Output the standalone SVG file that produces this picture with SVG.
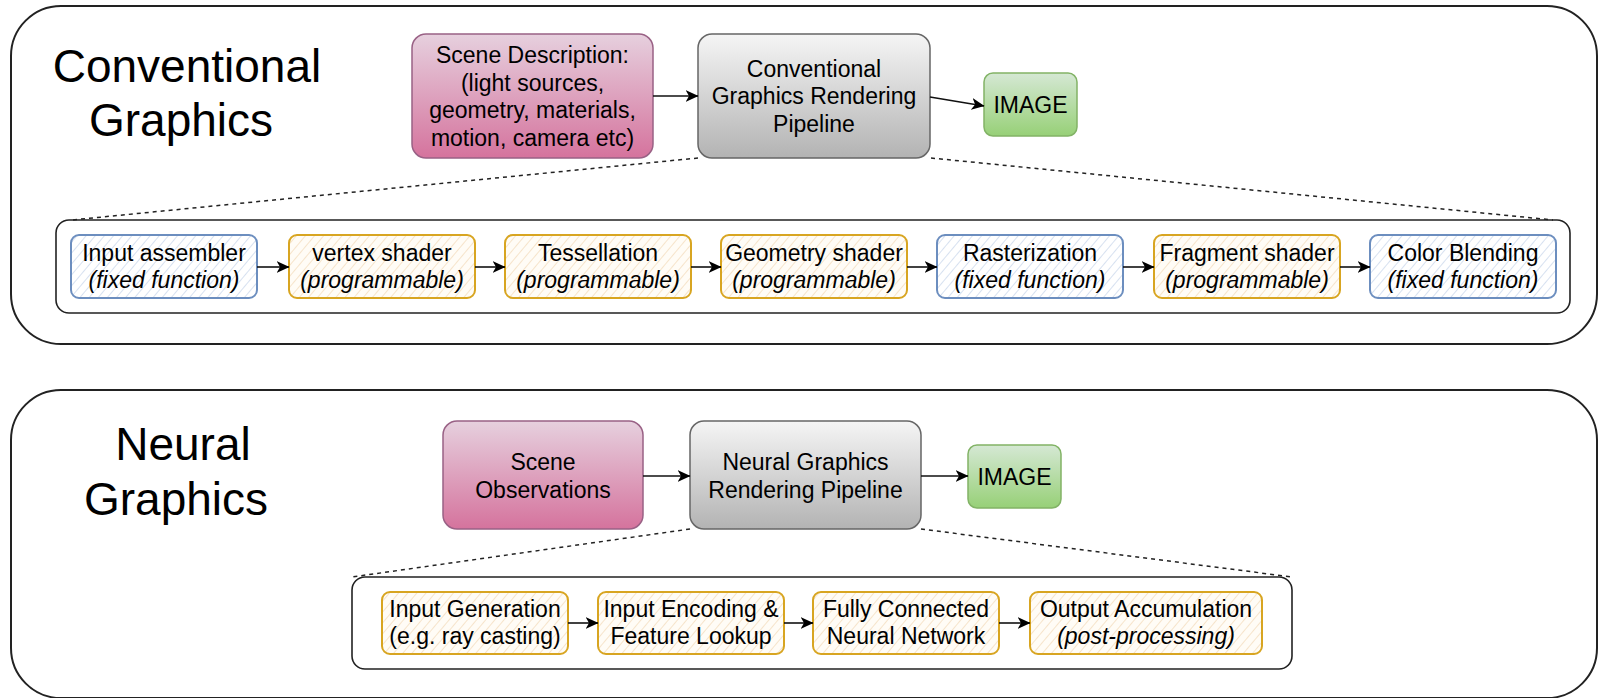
<svg xmlns="http://www.w3.org/2000/svg" width="1600" height="698" viewBox="0 0 1600 698">
  <defs>
    <linearGradient id="gPink" x1="0" y1="0" x2="0" y2="1">
      <stop offset="0" stop-color="#e6d0de"/>
      <stop offset="1" stop-color="#d5739d"/>
    </linearGradient>
    <linearGradient id="gGray" x1="0" y1="0" x2="0" y2="1">
      <stop offset="0" stop-color="#f5f5f5"/>
      <stop offset="1" stop-color="#b3b3b3"/>
    </linearGradient>
    <linearGradient id="gGreen" x1="0" y1="0" x2="0" y2="1">
      <stop offset="0" stop-color="#d5e8d4"/>
      <stop offset="1" stop-color="#97d077"/>
    </linearGradient>
    <pattern id="hatchBlue" width="7" height="7" patternUnits="userSpaceOnUse" patternTransform="rotate(40)">
      <rect width="7" height="7" fill="#fff"/>
      <line x1="0" y1="0" x2="0" y2="7" stroke="#c2d2e8" stroke-width="1.3"/>
    </pattern>
    <pattern id="hatchOrange" width="7" height="7" patternUnits="userSpaceOnUse" patternTransform="rotate(40)">
      <rect width="7" height="7" fill="#fffcf6"/>
      <line x1="0" y1="0" x2="0" y2="7" stroke="#f2d7b4" stroke-width="1.3"/>
    </pattern>
    <marker id="arrow" viewBox="0 0 13 12" refX="12.5" refY="6" markerWidth="13" markerHeight="12" markerUnits="userSpaceOnUse" orient="auto">
      <path d="M0,0 L13,6 L0,12 L3.5,6 Z" fill="#000"/>
    </marker>
  </defs>
  <style>
    text { font-family: "Liberation Sans", Arial, Helvetica, sans-serif; fill: #000; text-anchor: middle; }
    .lbl { font-size: 23px; }
    .big { font-size: 46px; }
    .it { font-style: italic; }
    .panel { fill: #fff; stroke: #222; stroke-width: 2; }
    .inner { fill: #fff; stroke: #222; stroke-width: 1.6; }
    .pink { fill: url(#gPink); stroke: #996185; stroke-width: 1.5; }
    .gray { fill: url(#gGray); stroke: #666; stroke-width: 1.5; }
    .green { fill: url(#gGreen); stroke: #82b366; stroke-width: 1.5; }
    .fixed { fill: url(#hatchBlue); stroke: #6c8ebf; stroke-width: 2; }
    .prog { fill: url(#hatchOrange); stroke: #d8a521; stroke-width: 2; }
    .edge { fill: none; stroke: #111; stroke-width: 1.6; marker-end: url(#arrow); }
    .dash { fill: none; stroke: #222; stroke-width: 1.5; stroke-dasharray: 4 4; }
  </style>

  <rect width="1600" height="698" fill="#fff"/>

  <!-- upper panel: conventional graphics -->
  <g id="panel-conventional">
    <rect class="panel" x="11" y="6" width="1586" height="338" rx="50"/>
    <text class="big" x="187" y="82">Conventional</text>
    <text class="big" x="181" y="136">Graphics</text>
  </g>
  <g id="scene-description">
    <rect class="pink" x="412" y="34" width="241" height="124" rx="14"/>
    <text class="lbl" x="532.5" y="63">Scene Description:</text>
    <text class="lbl" x="532.5" y="90.5">(light sources,</text>
    <text class="lbl" x="532.5" y="118">geometry, materials,</text>
    <text class="lbl" x="532.5" y="145.5">motion, camera etc)</text>
  </g>
  <g id="conventional-pipeline">
    <rect class="gray" x="698" y="34" width="232" height="124" rx="14"/>
    <text class="lbl" x="814" y="76.5">Conventional</text>
    <text class="lbl" x="814" y="104">Graphics Rendering</text>
    <text class="lbl" x="814" y="131.5">Pipeline</text>
  </g>
  <g id="image-conventional">
    <rect class="green" x="984" y="73" width="93" height="63" rx="9"/>
    <text class="lbl" x="1030.5" y="113">IMAGE</text>
  </g>
  <g id="conventional-stages">
    <rect class="inner" x="56" y="220" width="1514" height="93" rx="13"/>
  </g>
  <g id="input-assembler">
    <rect class="fixed" x="71" y="235" width="186" height="63" rx="8"/>
    <text class="lbl" x="164" y="261">Input assembler</text>
    <text class="lbl it" x="164" y="288">(fixed function)</text>
  </g>
  <g id="vertex-shader">
    <rect class="prog" x="289" y="235" width="186" height="63" rx="8"/>
    <text class="lbl" x="382" y="261">vertex shader</text>
    <text class="lbl it" x="382" y="288">(programmable)</text>
  </g>
  <g id="tessellation">
    <rect class="prog" x="505" y="235" width="186" height="63" rx="8"/>
    <text class="lbl" x="598" y="261">Tessellation</text>
    <text class="lbl it" x="598" y="288">(programmable)</text>
  </g>
  <g id="geometry-shader">
    <rect class="prog" x="721" y="235" width="186" height="63" rx="8"/>
    <text class="lbl" x="814" y="261">Geometry shader</text>
    <text class="lbl it" x="814" y="288">(programmable)</text>
  </g>
  <g id="rasterization">
    <rect class="fixed" x="937" y="235" width="186" height="63" rx="8"/>
    <text class="lbl" x="1030" y="261">Rasterization</text>
    <text class="lbl it" x="1030" y="288">(fixed function)</text>
  </g>
  <g id="fragment-shader">
    <rect class="prog" x="1154" y="235" width="186" height="63" rx="8"/>
    <text class="lbl" x="1247" y="261">Fragment shader</text>
    <text class="lbl it" x="1247" y="288">(programmable)</text>
  </g>
  <g id="color-blending">
    <rect class="fixed" x="1370" y="235" width="186" height="63" rx="8"/>
    <text class="lbl" x="1463" y="261">Color Blending</text>
    <text class="lbl it" x="1463" y="288">(fixed function)</text>
  </g>

  <!-- lower panel: neural graphics -->
  <g id="panel-neural">
    <rect class="panel" x="11" y="390" width="1586" height="308" rx="50"/>
    <text class="big" x="183" y="460">Neural</text>
    <text class="big" x="176" y="515">Graphics</text>
  </g>
  <g id="scene-observations">
    <rect class="pink" x="443" y="421" width="200" height="108" rx="14"/>
    <text class="lbl" x="543" y="470">Scene</text>
    <text class="lbl" x="543" y="497.5">Observations</text>
  </g>
  <g id="neural-pipeline">
    <rect class="gray" x="690" y="421" width="231" height="108" rx="14"/>
    <text class="lbl" x="805.5" y="470">Neural Graphics</text>
    <text class="lbl" x="805.5" y="497.5">Rendering Pipeline</text>
  </g>
  <g id="image-neural">
    <rect class="green" x="968" y="445" width="93" height="63" rx="9"/>
    <text class="lbl" x="1014.5" y="485">IMAGE</text>
  </g>
  <g id="neural-stages">
    <rect class="inner" x="352" y="577" width="940" height="92" rx="13"/>
  </g>
  <g id="input-generation">
    <rect class="prog" x="382" y="592" width="186" height="62" rx="8"/>
    <text class="lbl" x="475" y="617">Input Generation</text>
    <text class="lbl" x="475" y="644">(e.g. ray casting)</text>
  </g>
  <g id="input-encoding">
    <rect class="prog" x="598" y="592" width="186" height="62" rx="8"/>
    <text class="lbl" x="691" y="617">Input Encoding &amp;</text>
    <text class="lbl" x="691" y="644">Feature Lookup</text>
  </g>
  <g id="fully-connected">
    <rect class="prog" x="813" y="592" width="186" height="62" rx="8"/>
    <text class="lbl" x="906" y="617">Fully Connected</text>
    <text class="lbl" x="906" y="644">Neural Network</text>
  </g>
  <g id="output-accumulation">
    <rect class="prog" x="1030" y="592" width="232" height="62" rx="8"/>
    <text class="lbl" x="1146" y="617">Output Accumulation</text>
    <text class="lbl it" x="1146" y="644">(post-processing)</text>
  </g>

  <!-- connectors -->
  <g id="connectors">
    <path class="edge" d="M653,96 L698,96"/>
    <path class="edge" d="M930,97 L984,106"/>
    <path class="dash" d="M698,158 L72,220"/>
    <path class="dash" d="M931,158 L1553,220"/>
    <path class="edge" d="M257,267 L289,267"/>
    <path class="edge" d="M475,267 L505,267"/>
    <path class="edge" d="M691,267 L721,267"/>
    <path class="edge" d="M907,267 L937,267"/>
    <path class="edge" d="M1123,267 L1154,267"/>
    <path class="edge" d="M1340,267 L1370,267"/>

    <path class="edge" d="M643,476 L690,476"/>
    <path class="edge" d="M921,476 L968,476"/>
    <path class="dash" d="M690,529 L352,577"/>
    <path class="dash" d="M921,529 L1292,577"/>
    <path class="edge" d="M568,623 L598,623"/>
    <path class="edge" d="M784,623 L813,623"/>
    <path class="edge" d="M999,623 L1030,623"/>
  </g>
</svg>
